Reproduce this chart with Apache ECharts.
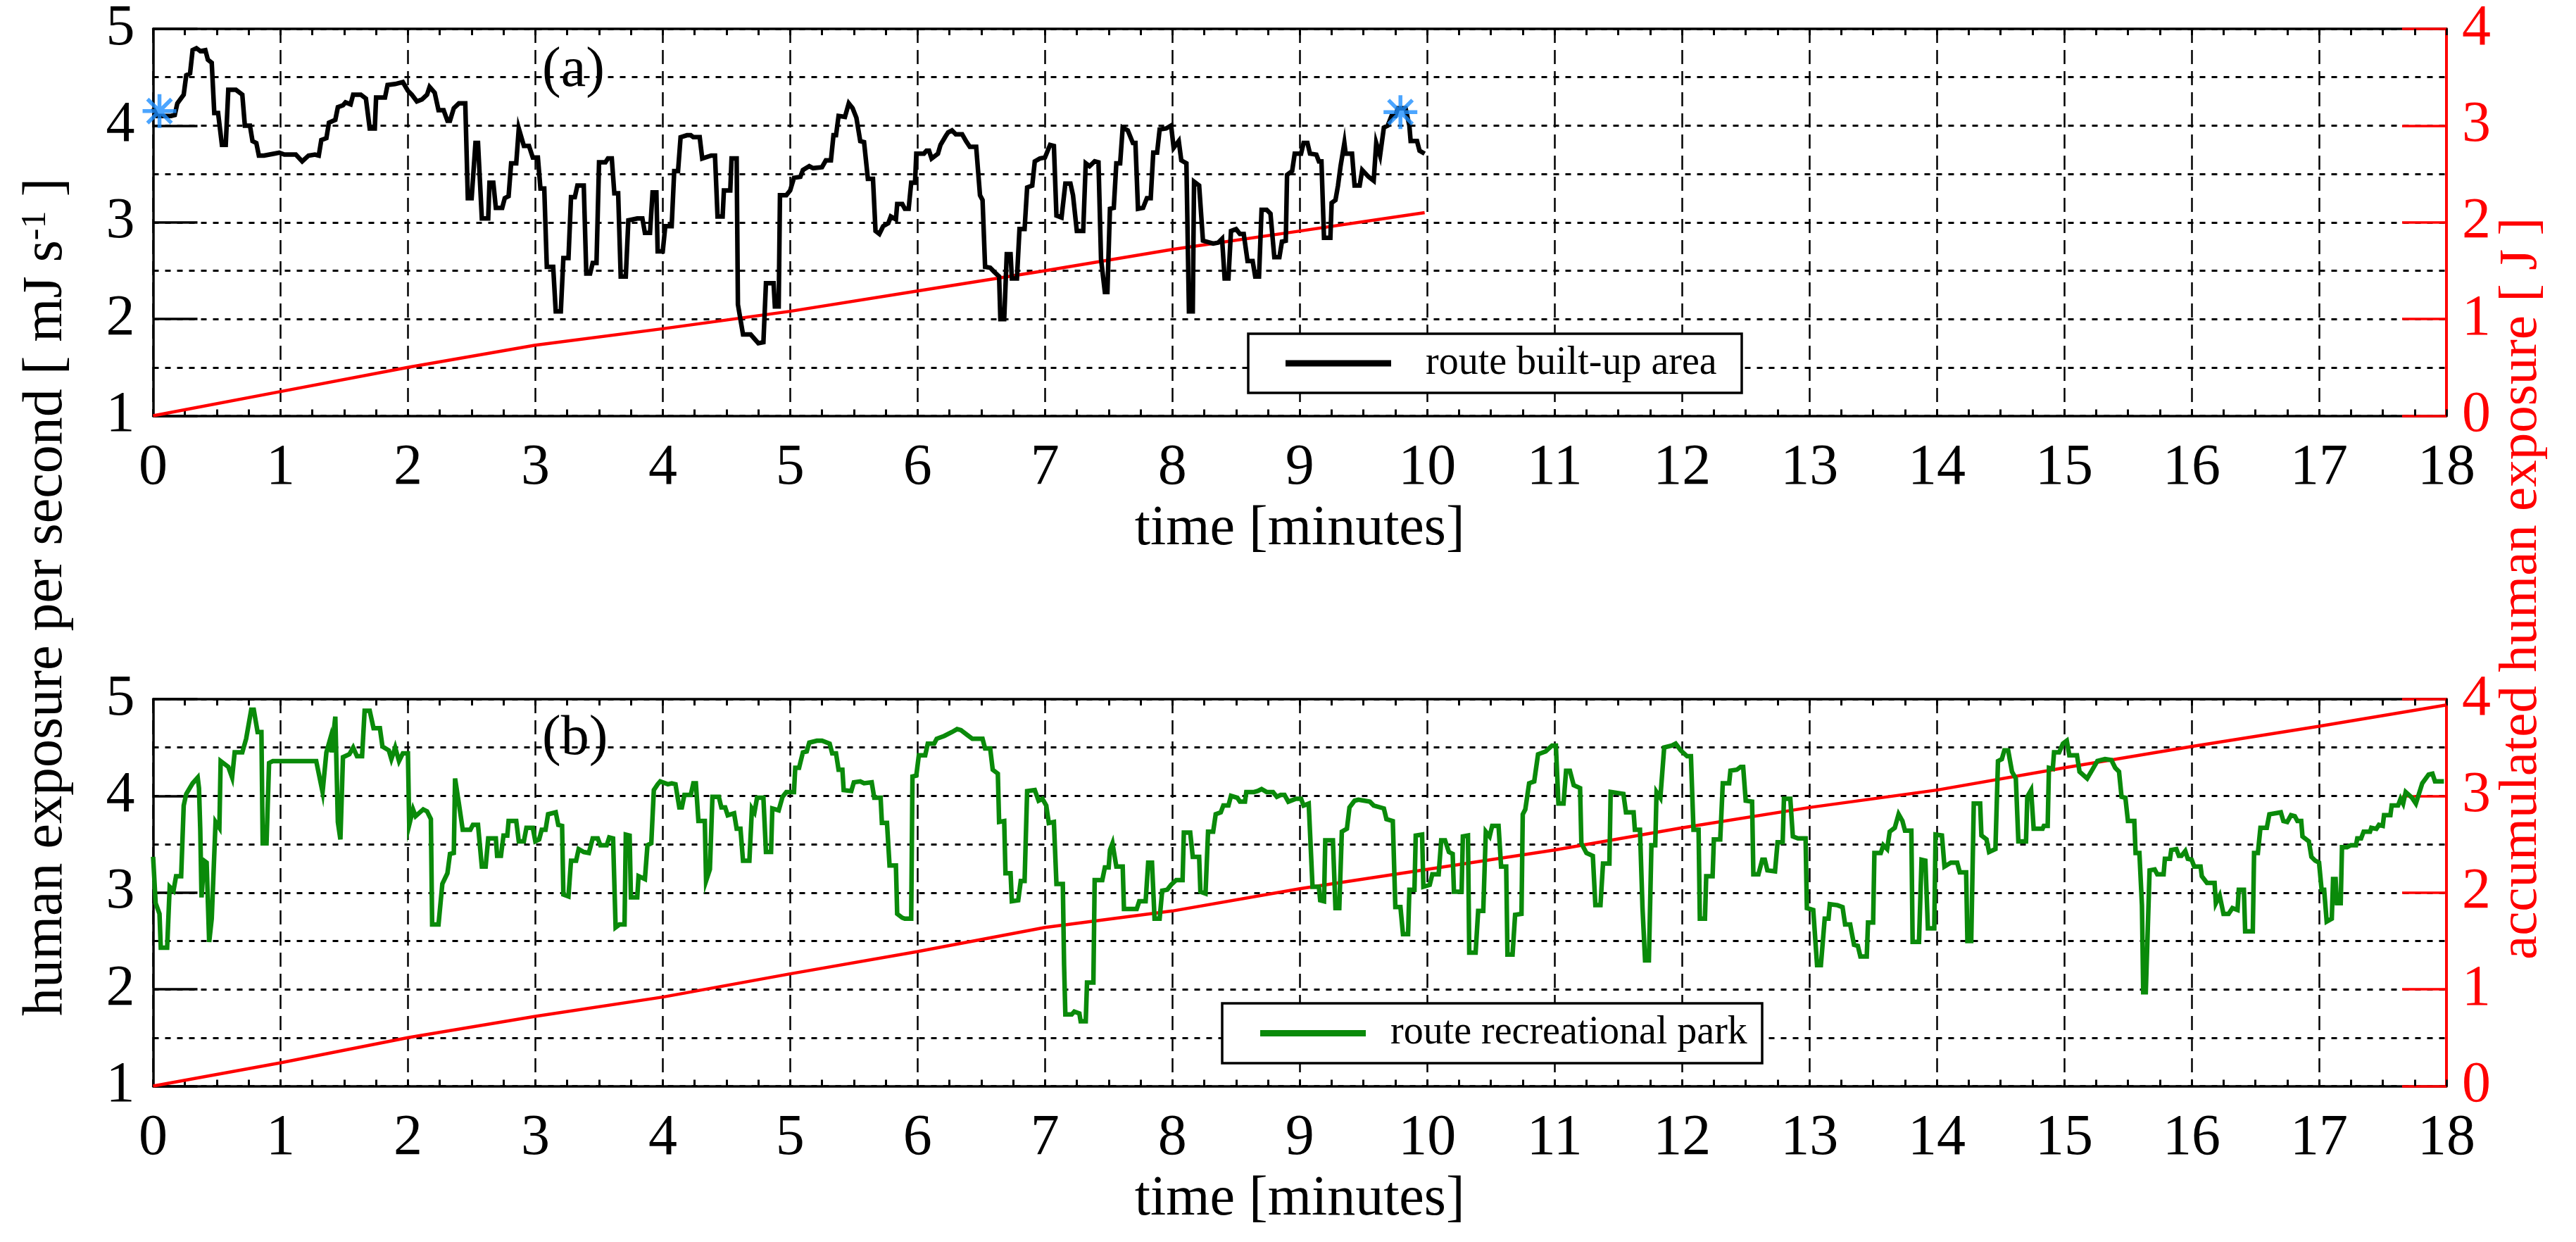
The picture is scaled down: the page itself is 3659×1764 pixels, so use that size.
<!DOCTYPE html>
<html>
<head>
<meta charset="utf-8">
<title>human exposure</title>
<script src="https://cdn.jsdelivr.net/npm/echarts@6/dist/echarts.min.js"></script>
<style>
  html, body { margin: 0; padding: 0; background: #fff; }
  #chart { width: 3659px; height: 1764px; }
</style>
</head>
<body>
<div id="chart"></div>
<script type="text/javascript">
// ---- data ----
// (a) route built-up area: time [min], exposure [mJ/s]
var builtTime = [0.00,0.03,0.14,0.17,0.19,0.24,0.26,0.29,0.31,0.34,0.37,0.41,0.43,0.46,0.48,0.51,0.54,0.57,0.59,0.65,
  0.70,0.72,0.76,0.78,0.81,0.83,0.87,0.95,0.99,1.03,1.12,1.17,1.22,1.27,1.30,1.32,1.36,1.38,1.43,1.45,
  1.49,1.51,1.55,1.57,1.63,1.67,1.70,1.74,1.75,1.82,1.84,1.90,1.96,2.00,2.03,2.07,2.11,2.15,2.17,2.21,
  2.24,2.28,2.31,2.33,2.36,2.40,2.45,2.47,2.50,2.53,2.55,2.58,2.63,2.64,2.67,2.69,2.74,2.76,2.79,2.81,
  2.85,2.87,2.91,2.95,2.98,3.02,3.04,3.07,3.09,3.14,3.16,3.20,3.22,3.26,3.28,3.31,3.33,3.38,3.40,3.43,
  3.45,3.48,3.50,3.55,3.57,3.60,3.62,3.65,3.67,3.71,3.73,3.80,3.84,3.86,3.90,3.92,3.95,3.96,4.00,4.02,
  4.07,4.09,4.12,4.14,4.19,4.22,4.24,4.29,4.31,4.38,4.41,4.43,4.47,4.48,4.53,4.54,4.58,4.59,4.63,4.69,
  4.75,4.79,4.81,4.87,4.88,4.91,4.92,4.97,5.00,5.03,5.08,5.10,5.15,5.18,5.25,5.28,5.32,5.34,5.36,5.38,
  5.43,5.46,5.49,5.52,5.55,5.58,5.61,5.65,5.67,5.70,5.73,5.77,5.79,5.83,5.84,5.88,5.90,5.93,5.95,5.98,
  5.99,6.05,6.07,6.09,6.11,6.16,6.18,6.22,6.24,6.27,6.30,6.35,6.38,6.41,6.46,6.49,6.51,6.53,6.57,6.60,
  6.64,6.65,6.68,6.70,6.73,6.74,6.78,6.80,6.84,6.86,6.90,6.92,6.96,7.00,7.04,7.07,7.09,7.13,7.16,7.20,
  7.22,7.25,7.30,7.32,7.35,7.39,7.42,7.44,7.47,7.49,7.51,7.54,7.56,7.59,7.61,7.65,7.69,7.71,7.73,7.77,
  7.80,7.83,7.85,7.88,7.90,7.95,7.99,8.01,8.05,8.07,8.11,8.13,8.16,8.17,8.21,8.24,8.32,8.36,8.39,8.41,
  8.44,8.46,8.50,8.53,8.56,8.59,8.63,8.65,8.68,8.70,8.74,8.77,8.80,8.84,8.86,8.89,8.90,8.94,8.96,9.01,
  9.03,9.06,9.08,9.13,9.15,9.17,9.19,9.24,9.25,9.28,9.30,9.32,9.35,9.36,9.41,9.43,9.47,9.49,9.54,9.58,
  9.60,9.63,9.66,9.69,9.72,9.75,9.77,9.83,9.86,9.87,9.92,9.94,9.98];
var builtExposure = [4.18,4.10,4.10,4.11,4.23,4.32,4.52,4.54,4.78,4.80,4.77,4.78,4.68,4.65,4.13,4.13,3.80,3.80,4.37,4.37,
  4.32,4.00,4.00,3.84,3.82,3.69,3.69,3.71,3.72,3.70,3.70,3.63,3.69,3.70,3.69,3.85,3.87,4.03,4.06,4.19,
  4.21,4.24,4.22,4.32,4.32,4.28,3.97,3.97,4.29,4.29,4.42,4.43,4.45,4.36,4.32,4.25,4.27,4.32,4.40,4.34,
  4.16,4.16,4.05,4.05,4.18,4.23,4.23,3.25,3.25,3.82,3.82,3.04,3.04,3.41,3.41,3.15,3.15,3.25,3.27,3.61,
  3.61,3.97,3.79,3.79,3.67,3.67,3.35,3.35,2.54,2.54,2.08,2.08,2.63,2.63,3.26,3.26,3.38,3.38,2.47,2.47,
  2.58,2.58,3.62,3.62,3.66,3.66,3.30,3.30,2.44,2.44,3.02,3.04,3.04,2.89,2.89,3.31,3.31,2.70,2.70,2.96,
  2.96,3.53,3.53,3.88,3.90,3.90,3.88,3.88,3.66,3.69,3.69,3.06,3.06,3.33,3.33,3.66,3.66,2.15,1.84,1.84,
  1.75,1.76,2.37,2.37,2.13,2.13,3.28,3.28,3.33,3.46,3.47,3.54,3.58,3.56,3.57,3.64,3.64,3.90,3.90,4.10,
  4.09,4.23,4.18,4.08,3.84,3.83,3.45,3.45,2.91,2.88,2.96,2.99,3.06,3.03,3.19,3.19,3.14,3.14,3.41,3.41,
  3.71,3.71,3.74,3.74,3.66,3.71,3.80,3.89,3.93,3.95,3.91,3.91,3.84,3.78,3.78,3.28,3.23,2.54,2.53,2.49,
  2.44,2.00,2.00,2.67,2.67,2.42,2.42,2.93,2.93,3.36,3.38,3.63,3.66,3.67,3.80,3.79,3.07,3.05,3.40,3.40,
  3.28,2.91,2.91,3.61,3.58,3.63,3.62,2.62,2.28,2.28,3.14,3.15,3.61,3.61,3.98,3.95,3.82,3.82,3.14,3.15,
  3.25,3.25,3.72,3.72,3.96,3.97,4.00,3.77,3.84,3.64,3.61,2.08,2.08,3.42,3.38,2.81,2.78,2.79,2.83,2.42,
  2.42,2.91,2.93,2.88,2.88,2.60,2.60,2.44,2.44,3.13,3.13,3.09,2.64,2.64,2.80,2.81,3.49,3.53,3.71,3.71,
  3.82,3.82,3.71,3.70,3.63,3.63,2.84,2.84,3.20,3.23,3.38,3.58,3.82,3.71,3.71,3.38,3.38,3.54,3.47,3.43,
  3.82,3.69,3.98,4.00,4.10,4.10,4.18,4.18,4.00,3.84,3.84,3.74,3.71];

// (a) accumulated exposure [J]
var builtAccTime = [0, 1, 2, 3, 4, 5, 6, 7, 8, 9, 9.98];
var builtAccumulated = [0, 0.25, 0.50, 0.73, 0.90, 1.08, 1.29, 1.50, 1.72, 1.91, 2.10];

// (a) marked points
var markerTime = [0.05, 9.79];
var markerValue = [4.15, 4.14];

// (b) route recreational park: time [min], exposure [mJ/s]
var parkTime = [0.00,0.02,0.05,0.06,0.11,0.13,0.16,0.18,0.22,0.24,0.26,0.31,0.35,0.36,0.37,0.38,0.40,0.42,0.44,0.46,
  0.49,0.52,0.53,0.59,0.62,0.64,0.70,0.73,0.77,0.79,0.82,0.85,0.86,0.89,0.91,0.94,1.28,1.33,1.36,1.39,
  1.40,1.43,1.45,1.47,1.49,1.54,1.57,1.60,1.64,1.66,1.70,1.73,1.78,1.80,1.85,1.87,1.90,1.93,1.96,2.00,
  2.01,2.04,2.06,2.12,2.15,2.18,2.19,2.24,2.27,2.31,2.33,2.36,2.37,2.40,2.43,2.49,2.51,2.55,2.58,2.61,
  2.63,2.69,2.70,2.73,2.75,2.78,2.79,2.85,2.87,2.91,2.93,2.98,3.00,3.03,3.05,3.08,3.10,3.16,3.18,3.21,
  3.22,3.26,3.28,3.32,3.34,3.38,3.42,3.45,3.49,3.51,3.56,3.58,3.61,3.63,3.66,3.70,3.71,3.74,3.75,3.80,
  3.81,3.86,3.88,3.91,3.93,3.96,3.98,4.04,4.07,4.10,4.13,4.15,4.17,4.22,4.24,4.26,4.28,4.33,4.34,4.37,
  4.39,4.44,4.46,4.49,4.51,4.56,4.58,4.61,4.63,4.68,4.70,4.72,4.74,4.79,4.81,4.85,4.86,4.91,4.94,4.97,
  5.03,5.04,5.07,5.10,5.13,5.15,5.21,5.25,5.31,5.33,5.36,5.38,5.41,5.42,5.48,5.50,5.55,5.58,5.64,5.66,
  5.71,5.72,5.76,5.78,5.83,5.84,5.88,5.90,5.95,5.96,5.99,6.01,6.06,6.08,6.13,6.15,6.21,6.27,6.31,6.34,
  6.39,6.43,6.51,6.53,6.57,6.59,6.63,6.64,6.68,6.69,6.73,6.74,6.79,6.81,6.84,6.86,6.92,6.95,6.98,7.01,
  7.03,7.07,7.09,7.14,7.15,7.16,7.21,7.23,7.27,7.28,7.32,7.33,7.38,7.39,7.45,7.47,7.50,7.51,7.53,7.56,
  7.61,7.62,7.72,7.74,7.79,7.81,7.84,7.86,7.90,7.92,7.96,7.99,8.03,8.08,8.09,8.14,8.16,8.21,8.22,8.26,
  8.28,8.32,8.34,8.38,8.40,8.44,8.46,8.51,8.53,8.57,8.58,8.64,8.67,8.70,8.74,8.79,8.82,8.85,8.88,8.91,
  8.97,9.01,9.03,9.07,9.10,9.15,9.16,9.19,9.20,9.26,9.28,9.31,9.33,9.37,9.39,9.43,9.46,9.55,9.58,9.66,
  9.68,9.73,9.75,9.79,9.81,9.85,9.86,9.90,9.91,9.96,9.97,10.02,10.04,10.09,10.11,10.14,10.17,10.20,10.21,10.27,
  10.28,10.32,10.33,10.38,10.40,10.44,10.46,10.49,10.51,10.56,10.58,10.62,10.63,10.67,10.69,10.74,10.75,10.77,10.80,10.84,
  10.87,10.93,10.98,11.01,11.03,11.07,11.09,11.12,11.15,11.20,11.21,11.25,11.30,11.32,11.36,11.38,11.43,11.44,11.54,11.56,
  11.62,11.63,11.67,11.69,11.71,11.74,11.76,11.79,11.80,11.83,11.86,11.92,11.95,11.99,12.04,12.07,12.09,12.13,12.14,12.18,
  12.19,12.24,12.25,12.30,12.32,12.37,12.38,12.43,12.46,12.48,12.50,12.55,12.56,12.60,12.63,12.65,12.67,12.73,12.75,12.79,
  12.80,12.85,12.87,12.91,12.97,12.98,13.03,13.06,13.09,13.12,13.15,13.16,13.22,13.26,13.28,13.32,13.35,13.38,13.40,13.45,
  13.46,13.50,13.51,13.56,13.58,13.61,13.63,13.67,13.70,13.73,13.75,13.80,13.81,13.86,13.88,13.91,13.93,13.98,13.99,14.04,
  14.06,14.11,14.16,14.18,14.23,14.24,14.27,14.29,14.34,14.35,14.39,14.41,14.46,14.48,14.51,14.53,14.56,14.59,14.62,14.64,
  14.70,14.71,14.74,14.76,14.83,14.84,14.87,14.88,14.91,14.92,14.96,14.99,15.02,15.04,15.10,15.12,15.18,15.22,15.26,15.32,
  15.37,15.40,15.43,15.45,15.48,15.50,15.55,15.56,15.59,15.61,15.62,15.64,15.67,15.71,15.73,15.78,15.79,15.83,15.84,15.88,
  15.90,15.92,15.95,15.97,16.00,16.02,16.07,16.08,16.12,16.18,16.19,16.22,16.25,16.29,16.32,16.36,16.37,16.41,16.42,16.48,
  16.49,16.52,16.54,16.59,16.61,16.70,16.72,16.75,16.78,16.81,16.83,16.86,16.87,16.92,16.94,16.97,17.00,17.02,17.04,17.06,
  17.10,17.11,17.13,17.14,17.17,17.18,17.22,17.25,17.29,17.30,17.33,17.35,17.40,17.41,17.45,17.47,17.50,17.51,17.56,17.57,
  17.62,17.64,17.66,17.68,17.73,17.76,17.81,17.86,17.89,17.91,17.98];
var parkExposure = [3.37,2.89,2.78,2.43,2.43,3.06,3.02,3.17,3.17,3.90,4.02,4.13,4.19,4.08,3.65,2.95,3.33,3.31,2.49,2.73,
  3.73,3.67,4.36,4.30,4.19,4.45,4.45,4.59,4.89,4.89,4.66,4.66,3.51,3.51,4.34,4.36,4.36,4.04,4.45,4.59,
  4.45,4.82,3.73,3.55,4.40,4.43,4.50,4.41,4.41,4.88,4.88,4.70,4.70,4.51,4.47,4.38,4.50,4.36,4.44,4.44,
  3.70,3.86,3.79,3.86,3.84,3.76,2.67,2.67,3.09,3.20,3.40,3.41,4.18,3.92,3.65,3.65,3.70,3.70,3.27,3.27,
  3.56,3.56,3.38,3.38,3.59,3.59,3.74,3.74,3.53,3.53,3.67,3.67,3.53,3.55,3.65,3.65,3.81,3.83,3.70,3.69,
  2.98,2.96,3.33,3.33,3.45,3.42,3.41,3.56,3.56,3.49,3.49,3.57,3.56,2.64,2.67,2.67,3.60,3.59,2.95,2.95,
  3.17,3.14,3.49,3.51,4.06,4.12,4.15,4.12,4.13,4.12,3.88,3.88,4.01,4.01,4.13,4.13,3.74,3.74,3.12,3.24,
  3.99,3.99,3.88,3.88,3.80,3.82,3.66,3.66,3.33,3.33,3.87,3.83,3.98,3.98,3.42,3.42,3.87,3.85,3.99,4.04,
  4.04,4.29,4.29,4.45,4.46,4.55,4.57,4.57,4.54,4.44,4.44,4.27,4.27,4.06,4.05,4.14,4.15,4.13,4.14,3.98,
  3.98,3.72,3.72,3.28,3.28,2.78,2.74,2.73,2.73,4.20,4.21,4.42,4.42,4.54,4.54,4.59,4.62,4.66,4.69,4.68,
  4.63,4.59,4.59,4.49,4.49,4.27,4.23,3.73,3.74,3.20,3.20,2.91,2.92,3.12,3.12,4.05,4.06,3.95,3.97,3.90,
  3.72,3.73,3.09,3.09,2.25,1.74,1.74,1.77,1.75,1.67,1.67,2.07,2.07,3.13,3.13,3.26,3.26,3.44,3.51,3.27,
  3.27,2.83,2.83,2.91,2.91,3.31,3.31,2.73,2.73,3.02,3.03,3.08,3.13,3.13,3.62,3.62,3.37,3.37,3.01,2.99,
  3.63,3.63,3.81,3.83,3.90,3.90,4.00,3.98,3.94,3.94,4.04,4.04,4.05,4.07,4.04,4.04,3.99,4.01,4.01,3.94,
  3.97,3.97,3.90,3.92,3.06,3.06,2.92,2.91,3.54,3.54,2.84,2.84,3.63,3.66,3.88,3.95,3.96,3.94,3.90,3.87,
  3.76,3.74,2.85,2.85,2.57,2.57,3.03,3.03,3.59,3.60,3.06,3.08,3.19,3.19,3.54,3.54,3.42,3.40,3.01,3.01,
  3.58,3.59,2.38,2.38,2.81,2.81,3.63,3.58,3.69,3.69,3.27,3.27,2.36,2.36,2.77,2.78,3.81,3.86,4.13,4.15,
  4.43,4.46,4.52,4.52,3.92,3.92,4.26,4.26,4.11,4.08,3.51,3.41,3.38,2.87,2.87,3.30,3.30,4.04,4.02,3.83,
  3.83,3.65,3.65,2.84,2.30,2.30,3.49,3.49,4.04,3.98,4.50,4.52,4.54,4.47,4.41,4.41,3.65,3.65,2.73,2.73,
  3.17,3.17,3.55,3.55,4.13,4.13,4.26,4.27,4.30,4.30,3.95,3.94,3.19,3.19,3.34,3.34,3.23,3.22,3.52,3.52,
  3.97,3.97,3.58,3.56,3.56,2.84,2.82,2.25,2.25,2.73,2.73,2.88,2.87,2.85,2.67,2.67,2.46,2.45,2.34,2.34,
  2.69,2.69,3.41,3.41,3.49,3.45,3.63,3.67,3.81,3.74,3.64,3.64,2.49,2.49,3.34,3.33,2.63,2.63,3.60,3.59,
  3.27,3.31,3.31,3.21,3.21,2.50,2.50,3.92,3.92,3.59,3.55,3.42,3.45,4.36,4.38,4.47,4.47,4.25,4.18,3.53,
  3.53,3.99,4.06,3.66,3.66,3.69,3.69,4.29,4.28,4.45,4.45,4.54,4.57,4.42,4.42,4.25,4.18,4.27,4.36,4.38,
  4.37,4.29,4.25,3.99,3.98,3.74,3.74,3.41,3.41,2.87,1.97,1.97,3.23,3.24,3.19,3.19,3.35,3.35,3.44,3.45,
  3.38,3.38,3.43,3.35,3.34,3.27,3.27,3.17,3.10,3.10,2.89,2.97,2.78,2.78,2.84,2.82,3.03,3.03,2.60,2.60,
  3.41,3.41,3.67,3.67,3.81,3.83,3.74,3.73,3.80,3.79,3.74,3.74,3.58,3.53,3.37,3.33,3.31,3.03,3.03,2.70,
  2.73,3.14,3.14,2.89,2.89,3.47,3.47,3.49,3.49,3.56,3.56,3.63,3.63,3.67,3.66,3.70,3.69,3.80,3.80,3.90,
  3.90,3.97,3.92,4.04,3.98,3.92,4.13,4.22,4.23,4.15,4.15];

// (b) accumulated exposure [J]
var parkAccTime = [0, 1, 2, 3, 4, 5, 6, 7, 8, 9, 10, 11, 12, 13, 14, 15, 16, 17, 18];
var parkAccumulated = [0, 0.24, 0.50, 0.72, 0.92, 1.16, 1.39, 1.64, 1.81, 2.04, 2.24, 2.44, 2.67, 2.88, 3.06, 3.29, 3.51, 3.72, 3.94];

// axes
var timeMin = 0, timeMax = 18, timeStep = 1;
var exposureMin = 1, exposureMax = 5;
var accMin = 0, accMax = 4;

var FONT = "'Liberation Serif', 'Times New Roman', serif";
var RED = '#ff0000';
var GREEN = '#0a8a0a';
var BLUE = '#1e8fff';

function zip(xs, ys) {
  return xs.map(function (x, i) { return [x, ys[i]]; });
}

function timeAxis(gridIndex, position) {
  var bottom = position === 'bottom';
  return {
    type: 'value', gridIndex: gridIndex, position: position,
    min: timeMin, max: timeMax, interval: timeStep,
    name: bottom ? 'time [minutes]' : '',
    nameLocation: 'middle', nameGap: 121, nameMoveOverlap: false,
    nameTextStyle: { fontFamily: FONT, fontSize: 80, color: '#000' },
    axisLine: { show: true, onZero: false, lineStyle: { color: '#000', width: 3.5 } },
    axisTick: { show: true, inside: true, length: 9, lineStyle: { color: '#000', width: 3 } },
    minorTick: { show: true, splitNumber: 4, length: 9, lineStyle: { color: '#000', width: 3 } },
    axisLabel: { show: bottom, margin: 34, fontFamily: FONT, fontSize: 82, color: '#000' },
    splitLine: { show: bottom, lineStyle: { color: '#000', width: 2.5, type: [20, 10] } }
  };
}

function exposureAxis(gridIndex) {
  return {
    type: 'value', gridIndex: gridIndex, position: 'left',
    min: exposureMin, max: exposureMax, interval: 1,
    axisLine: { show: true, onZero: false, lineStyle: { color: '#000', width: 3.5 } },
    axisTick: { show: true, inside: true, length: 63, lineStyle: { color: '#000', width: 3.5 } },
    axisLabel: { margin: 26, fontFamily: FONT, fontSize: 82, color: '#000' },
    splitLine: { show: true, lineStyle: { color: '#000', width: 3, type: [8, 9] } },
    minorTick: { show: false, splitNumber: 2 },
    minorSplitLine: { show: true, lineStyle: { color: '#000', width: 3, type: [8, 9] } }
  };
}

function accumulatedAxis(gridIndex) {
  return {
    type: 'value', gridIndex: gridIndex, position: 'right',
    min: accMin, max: accMax, interval: 1,
    axisLine: { show: true, onZero: false, lineStyle: { color: RED, width: 4 } },
    axisTick: { show: true, inside: true, length: 63, lineStyle: { color: RED, width: 3.5 } },
    axisLabel: { margin: 22, fontFamily: FONT, fontSize: 82, color: RED },
    splitLine: { show: false }
  };
}

function legendBox(x, y, w, h, lineX, lineW, color, textX, label) {
  var cy = y + h / 2;
  return [
    { type: 'rect', z: 100, shape: { x: x, y: y, width: w, height: h },
      style: { fill: '#fff', stroke: '#000', lineWidth: 3.5 } },
    { type: 'line', z: 101, shape: { x1: lineX, y1: cy, x2: lineX + lineW, y2: cy },
      style: { stroke: color, lineWidth: 9 } },
    { type: 'text', z: 101, x: textX, y: cy,
      style: { text: label, fontFamily: FONT, fontSize: 56, fill: '#000', align: 'left', verticalAlign: 'middle' } }
  ];
}

var chart = echarts.init(document.getElementById('chart'), null, { renderer: 'canvas' });

var option = {
  animation: false,
  backgroundColor: '#fff',
  grid: [
    { left: 217.5, right: 184, top: 41, height: 549.5, outerBoundsMode: 'none', containLabel: false },
    { left: 217.5, right: 184, top: 993, height: 549.5, outerBoundsMode: 'none', containLabel: false }
  ],
  xAxis: [timeAxis(0, 'bottom'), timeAxis(0, 'top'), timeAxis(1, 'bottom'), timeAxis(1, 'top')],
  yAxis: [exposureAxis(0), accumulatedAxis(0), exposureAxis(1), accumulatedAxis(1)],
  series: [
    { name: 'accumulated built-up', type: 'line', xAxisIndex: 0, yAxisIndex: 1, z: 2,
      showSymbol: false, data: zip(builtAccTime, builtAccumulated),
      lineStyle: { color: RED, width: 4.5 } },
    { name: 'route built-up area', type: 'line', xAxisIndex: 0, yAxisIndex: 0, z: 3,
      showSymbol: false, data: zip(builtTime, builtExposure),
      lineStyle: { color: '#000', width: 6.5, join: 'miter' } },
    { name: 'marked', type: 'scatter', xAxisIndex: 0, yAxisIndex: 0, z: 4,
      symbol: 'path://M10,0L10,20M0,10L20,10M2.9,2.9L17.1,17.1M2.9,17.1L17.1,2.9',
      symbolSize: 48, data: zip(markerTime, markerValue),
      itemStyle: { color: 'none', borderColor: BLUE, borderWidth: 5.5 } },
    { name: 'accumulated park', type: 'line', xAxisIndex: 2, yAxisIndex: 3, z: 2,
      showSymbol: false, data: zip(parkAccTime, parkAccumulated),
      lineStyle: { color: RED, width: 4.5 } },
    { name: 'route recreational park', type: 'line', xAxisIndex: 2, yAxisIndex: 2, z: 3,
      showSymbol: false, data: zip(parkTime, parkExposure),
      lineStyle: { color: GREEN, width: 6.5, join: 'miter' } }
  ],
  graphic: [].concat(
    legendBox(1773, 474, 701, 84, 1826, 150, '#000', 2025, 'route built-up area'),
    legendBox(1736, 1425, 767, 85, 1790, 150, GREEN, 1975, 'route recreational park'),
    [
      { type: 'text', z: 100, x: 770, y: 101,
        style: { text: '(a)', fontFamily: FONT, fontSize: 80, fill: '#000', align: 'left', verticalAlign: 'middle' } },
      { type: 'text', z: 100, x: 770, y: 1050,
        style: { text: '(b)', fontFamily: FONT, fontSize: 80, fill: '#000', align: 'left', verticalAlign: 'middle' } },
      { type: 'text', z: 100, x: 66, y: 848, rotation: Math.PI / 2,
        style: {
          text: 'human exposure per second [ mJ s{sup|-1} ]',
          fontFamily: FONT, fontSize: 80, fill: '#000', align: 'center', verticalAlign: 'middle',
          rich: { sup: { fontFamily: FONT, fontSize: 50, fill: '#000', verticalAlign: 'top', lineHeight: 80 } }
        } },
      { type: 'text', z: 100, x: 3582, y: 836, rotation: Math.PI / 2,
        style: { text: 'accumulated human exposure [ J ]', fontFamily: FONT, fontSize: 77, fill: RED,
          align: 'center', verticalAlign: 'middle' } }
    ]
  )
};

chart.setOption(option);
window.onresize = function () {
  chart.resize();
};
</script>
</body>
</html>
